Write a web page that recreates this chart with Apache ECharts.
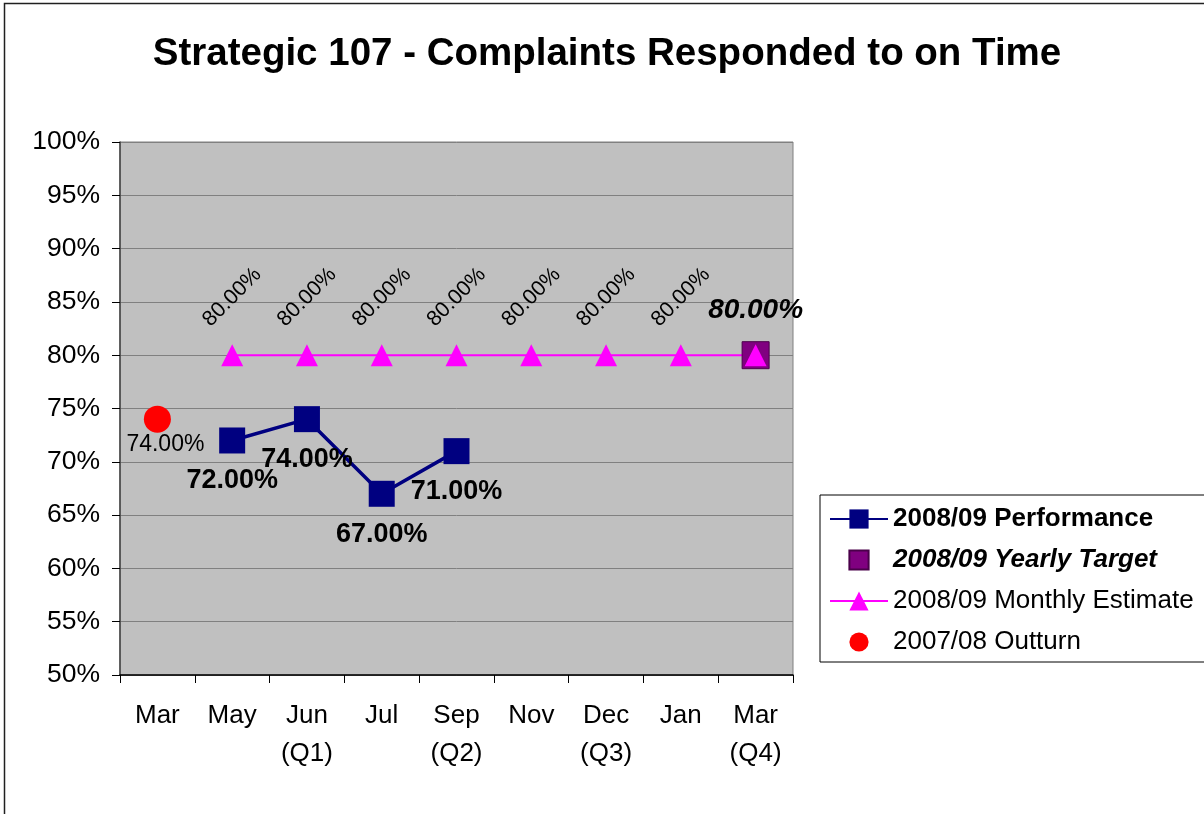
<!DOCTYPE html>
<html>
<head>
<meta charset="utf-8">
<script src="https://cdn.jsdelivr.net/npm/echarts@6/dist/echarts.min.js"></script>
<style>html,body{margin:0;padding:0;background:#fff}#c{width:1204px;height:814px}</style>
</head>
<body>
<div id="c"></div>
<script>
var categories = ['Mar', 'May', 'Jun\n(Q1)', 'Jul', 'Sep\n(Q2)', 'Nov', 'Dec\n(Q3)', 'Jan', 'Mar\n(Q4)'];
var performance = [null, 72, 74, 67, 71, null, null, null, null];
var yearlyTarget = [null, null, null, null, null, null, null, null, 80];
var monthlyEstimate = [null, 80, 80, 80, 80, 80, 80, 80, 80];
var outturn = [74, null, null, null, null, null, null, null, null];
var yTicks = [50, 100, 5];

var FONT = '"Liberation Sans", Arial, sans-serif';
function pct(p) { return p.value.toFixed(2) + '%'; }

var chart = echarts.init(document.getElementById('c'), null, { renderer: 'canvas' });
chart.setOption({
  animation: false,
  backgroundColor: '#ffffff',
  textStyle: { fontFamily: FONT },
  graphic: [{
    type: 'rect', silent: true, z: -10,
    shape: { x: 4.5, y: 3.5, width: 1300, height: 900 },
    style: { fill: 'none', stroke: '#202020', lineWidth: 1.5 }
  }],
  title: {
    text: 'Strategic 107 - Complaints Responded to on Time',
    left: 607, top: 35, textAlign: 'center', padding: 0,
    textStyle: { fontFamily: FONT, fontSize: 38.5, fontWeight: 'bold', color: '#000' }
  },
  grid: {
    left: 120, top: 142, right: 411, bottom: 139,
    show: true, backgroundColor: '#C0C0C0', borderColor: '#808080', borderWidth: 1
  },
  xAxis: {
    type: 'category', data: categories, boundaryGap: true,
    axisLine: { lineStyle: { color: '#000', width: 1.5 } },
    axisTick: { show: true, length: 8, inside: false, lineStyle: { color: '#000' } },
    axisLabel: { color: '#000', fontSize: 26, fontFamily: FONT, margin: 22, lineHeight: 38, interval: 0 },
    splitLine: { show: false }
  },
  yAxis: {
    type: 'value', min: yTicks[0], max: yTicks[1], interval: yTicks[2],
    axisLine: { show: true, lineStyle: { color: '#404040', width: 1.5 } },
    axisTick: { show: true, length: 8, lineStyle: { color: '#000' } },
    axisLabel: { color: '#000', fontSize: 26.5, fontFamily: FONT, margin: 20, formatter: '{value}%' },
    splitLine: { show: true, lineStyle: { color: '#808080', width: 1 } }
  },
  legend: {
    orient: 'vertical', left: 820, top: 495,
    backgroundColor: '#fff', borderColor: '#000', borderWidth: 1,
    padding: [11, 12, 7, 9], itemWidth: 58, itemHeight: 24, itemGap: 15,
    textStyle: { fontFamily: FONT, fontSize: 26, color: '#000' },
    data: [
      { name: '2008/09 Performance', textStyle: { fontWeight: 'bold' } },
      { name: '2008/09 Yearly Target', textStyle: { fontWeight: 'bold', fontStyle: 'italic' } },
      { name: '2008/09 Monthly Estimate' },
      { name: '2007/08 Outturn' }
    ]
  },
  series: [
    {
      name: '2008/09 Performance', type: 'line', data: performance,
      connectNulls: false, symbol: 'rect', symbolSize: 26,
      lineStyle: { color: '#000080', width: 3.5 },
      itemStyle: { color: '#000080' },
      label: {
        show: true, position: 'bottom', distance: 14, formatter: pct,
        fontFamily: FONT, fontSize: 27, fontWeight: 'bold', color: '#000'
      }
    },
    {
      name: '2008/09 Yearly Target', type: 'line', data: yearlyTarget,
      symbol: 'rect', symbolSize: 27, showAllSymbol: true,
      lineStyle: { width: 0, opacity: 0 },
      itemStyle: { color: '#800080', borderColor: '#4a004a', borderWidth: 1 },
      label: {
        show: true, position: 'top', distance: 17, formatter: pct,
        fontFamily: FONT, fontSize: 28, fontWeight: 'bold', fontStyle: 'italic', color: '#000'
      }
    },
    {
      name: '2008/09 Monthly Estimate', type: 'line',
      data: monthlyEstimate.map(function (v, i) {
        return i === monthlyEstimate.length - 1 ? { value: v, label: { show: false } } : v;
      }),
      symbol: 'triangle', symbolSize: 22,
      lineStyle: { color: '#FF00FF', width: 2 },
      itemStyle: { color: '#FF00FF' },
      label: {
        show: true, position: 'top', distance: 47, rotate: 45,
        align: 'center', verticalAlign: 'middle', formatter: pct,
        fontFamily: FONT, fontSize: 21.5, color: '#000'
      }
    },
    {
      name: '2007/08 Outturn', type: 'line', data: outturn,
      symbol: 'circle', symbolSize: 27,
      lineStyle: { width: 0, opacity: 0 },
      itemStyle: { color: '#FF0000' },
      label: {
        show: true, position: 'bottom', distance: 0, offset: [8, 0], formatter: pct,
        fontFamily: FONT, fontSize: 23, color: '#000'
      }
    }
  ]
});
</script>
</body>
</html>
